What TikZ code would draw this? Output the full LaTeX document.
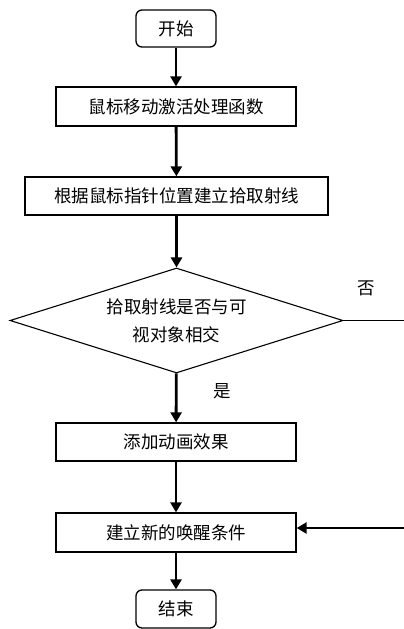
\documentclass[tikz,border=0pt]{standalone}
\usepackage{fontspec}
\setmainfont{Noto Sans CJK SC}
\usetikzlibrary{arrows.meta,shapes.geometric}

\tikzset{
  proc/.style={draw=black, line width=1.3pt, rectangle, minimum width=240pt, minimum height=39pt, inner sep=0pt},
  term/.style={proc, rounded corners=6pt, minimum width=80pt, minimum height=37pt},
  decision/.style={draw=black, line width=1.1pt, diamond, aspect=3.2, minimum width=333pt, minimum height=105pt, inner sep=0pt, align=center},
  flow/.style={line width=2.8pt, -{Triangle[length=10pt,width=11pt]}},
  plain/.style={line width=1.3pt},
}

\begin{document}
\begin{tikzpicture}[x=1pt, y=-1pt, font=\fontsize{17.5}{28}\selectfont]
  \useasboundingbox (0,0) rectangle (404,629);

  \node[term] (start) at (176,28.5) {开始};
  \node[proc] (mouse) at (176,106.5) {鼠标移动激活处理函数};
  \node[proc, minimum width=303pt, minimum height=38pt] (ray) at (176.5,196) {根据鼠标指针位置建立拾取射线};
  \node[decision] (test) at (176.5,320.5) {拾取射线是否与可\\视对象相交};
  \node[proc, minimum height=38pt] (anim) at (176,442) {添加动画效果};
  \node[proc] (wake) at (176,532.5) {建立新的唤醒条件};
  \node[term, minimum height=38pt] (stop) at (176,609) {结束};

  \node (no) at (366,288) {否};
  \node (yes) at (222,391) {是};

  \coordinate (noend) at (404,320.5);
  \coordinate (back) at (404,528);

  \draw[flow] (start) -- (mouse);
  \draw[flow] (mouse) -- (ray);
  \draw[flow] (ray) -- (test);
  \draw[flow] (test) -- (anim);
  \draw[flow] (anim) -- (wake);
  \draw[flow] (wake) -- (stop);
  \draw[plain] (test.east) -- (noend);
  \draw[flow] (back) -- (wake.east |- back);
\end{tikzpicture}
\end{document}
